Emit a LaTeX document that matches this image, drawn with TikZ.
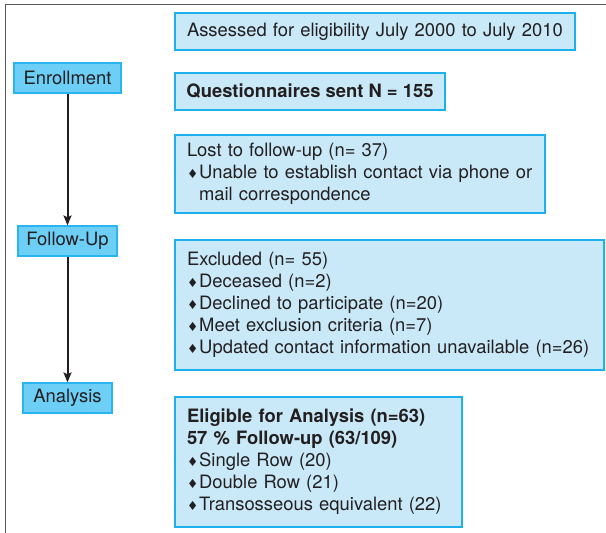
\documentclass[tikz,border=0pt]{standalone}
\usepackage{fontspec}
\setmainfont{TeX Gyre Heros}
\newfontfamily\symfont{DejaVu Sans}
\usetikzlibrary{arrows.meta}
\definecolor{stagefill}{HTML}{6DCFF6}
\definecolor{stageline}{HTML}{29B6F0}
\definecolor{infofill}{HTML}{C9E9F8}
\definecolor{infoline}{HTML}{1CB0EC}
\definecolor{inktext}{HTML}{231F20}
\newcommand{\dmd}{\raisebox{0.5pt}{\symfont\fontsize{12.5}{12.5}\selectfont ♦}\hspace{1pt}}

\begin{document}
\begin{tikzpicture}[x=1pt, y=-1pt]
    \tikzset{stage/.style = {shape=rectangle, draw=stageline, fill=stagefill, line width=1.2pt, minimum height=30pt, inner xsep=4pt, text=inktext, font=\fontsize{18.4}{22}\selectfont}}
    \tikzset{infobox/.style = {shape=rectangle, draw=infoline, fill=infofill, line width=1.2pt, inner xsep=12pt, align=left, text=inktext, font=\fontsize{18.4}{22}\selectfont}}
    \tikzset{flow/.style = {draw=inktext, line width=2pt, -{Stealth[length=10pt, width=8pt, inset=2pt]}}}

    \useasboundingbox (0,0) rectangle (606,533);
    \draw[black!65, line width=1.6pt] (5.5,533) -- (5.5,4.5) -- (606,4.5);

    % stages
    \node[stage, minimum width=107pt] (enroll) at (67.5,78) {Enrollment};
    \node[stage, minimum width=99pt] (follow) at (67.5,241) {Follow-Up};
    \node[stage, minimum width=89pt] (analysis) at (67.5,398) {Analysis};

    % boxes
    \node[infobox, text width=376pt, minimum height=37pt] (assess) at (375,31.5)
        {Assessed for eligibility July 2000 to July 2010};
    \node[infobox, inner xsep=4pt, minimum width=270pt, minimum height=37pt] (sent) at (310,91.5)
        {\textbf{Questionnaires sent N = 155}};
    \node[infobox, text width=346pt, minimum height=78pt] (lost) at (360,174)
        {Lost to follow-up (n= 37)\\
         \dmd Unable to establish contact via phone or\\
         \hspace*{12pt}mail correspondence};
    \node[infobox, text width=405pt, minimum height=130pt] (excl) at (389.5,305)
        {Excluded (n= 55)\\
         \dmd Deceased (n=2)\\
         \dmd Declined to participate (n=20)\\
         \dmd Meet exclusion criteria (n=7)\\
         \dmd Updated contact information unavailable (n=26)};
    \node[infobox, text width=263pt, minimum height=130pt] (elig) at (318.5,462)
        {\textbf{Eligible for Analysis (n=63)}\\
         \textbf{57 \% Follow-up (63/109)}\\
         \dmd Single Row (20)\\
         \dmd Double Row (21)\\
         \dmd Transosseous equivalent (22)};

    % arrows
    \draw[flow] (enroll) -- (follow);
    \draw[flow] (follow) -- (analysis);
\end{tikzpicture}
\end{document}
